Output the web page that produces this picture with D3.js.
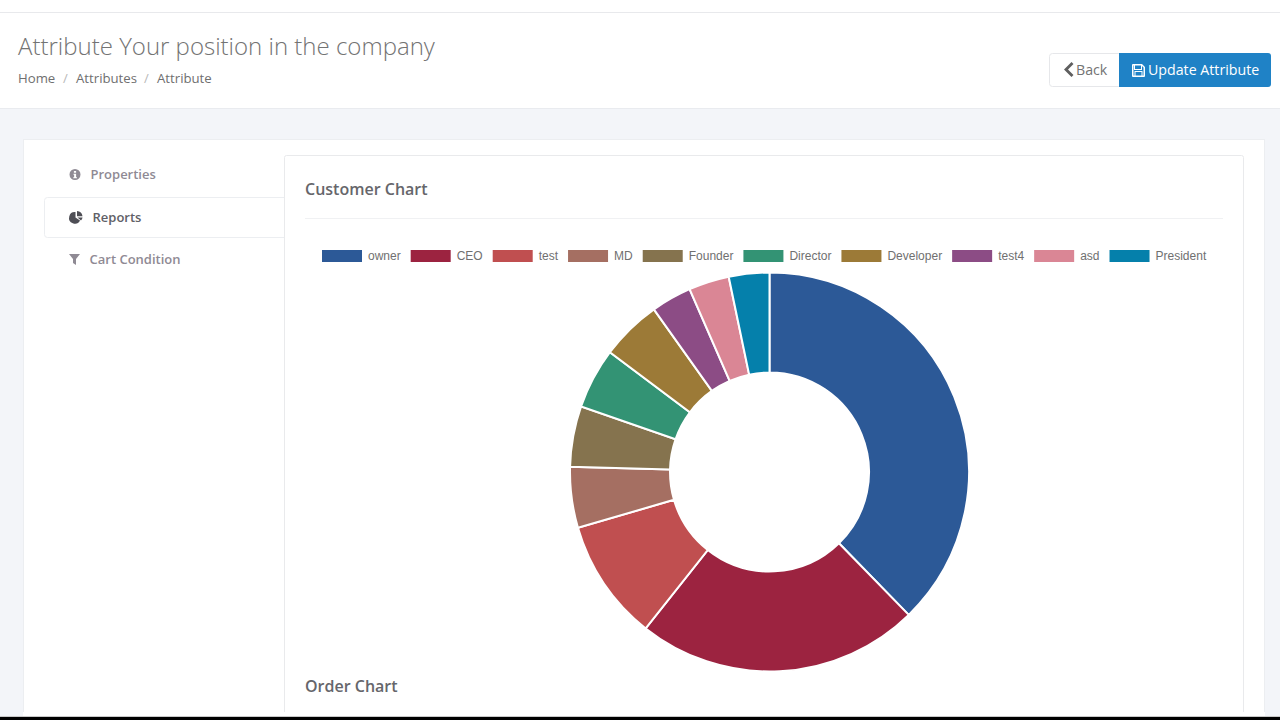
<!DOCTYPE html>
<html>
<head>
<meta charset="utf-8">
<title>Attribute</title>
<script src="https://cdnjs.cloudflare.com/ajax/libs/d3/7.8.5/d3.min.js"></script>
<style>
html,body{margin:0;padding:0;background:#fff;overflow:hidden;}
svg{display:block;}
text{font-family:"Open Sans",sans-serif;}
</style>
</head>
<body>
<div id="page"></div>
<script>
// chart data
const categories=["owner","CEO","test","MD","Founder","Director","Developer","test4","asd","President"];
const customerCounts=[23,14,6,3,3,3,3,2,2,2];
const sliceColors=["#2c5997","#9c2340","#c04f50","#a56f62","#85734e","#339374","#9c7a37","#8c4c85","#da8695","#0580ab"];
const crumbs=["Home","Attributes","Attribute"];

const svg=d3.select("#page").append("svg")
    .attr("width",1280)
    .attr("height",720);

function box(x,y,w,h,fill,stroke,r){
    return svg.append("rect")
        .attr("x",x).attr("y",y)
        .attr("width",w).attr("height",h)
        .attr("rx",r||0)
        .attr("fill",fill)
        .attr("stroke",stroke||"none");
}
function label(x,y,txt,size,color,weight){
    return svg.append("text")
        .attr("x",x).attr("y",y)
        .attr("font-size",size)
        .attr("font-weight",weight||400)
        .attr("fill",color)
        .text(txt);
}
function icon(x,y,scale,d,fill){
    return svg.append("path")
        .attr("transform",`translate(${x},${y}) scale(${scale})`)
        .attr("d",d)
        .attr("fill",fill)
        .attr("fill-rule","evenodd");
}

// page background + header
box(0,0,1280,720,"#f3f5f9");
box(0,0,1280,108,"#ffffff");
box(0,12,1280,1,"#e8e9ec");
box(0,108,1280,1,"#e9ebef");

label(18,55,"Attribute Your position in the company",24,"#737373",300);

// breadcrumb
label(18,83,crumbs[0],13.2,"#6f6f6f");
label(63,83,"/",13,"#b8b8b8");
label(76,83,crumbs[1],13.2,"#6f6f6f");
label(144,83,"/",13,"#b8b8b8");
label(157,83,crumbs[2],13.2,"#6f6f6f");

// buttons
box(1049.5,53.5,72,33,"#ffffff","#e6e7ea",3);
label(1076,75,"Back",14.2,"#737373");
box(1119,53,152,34,"#1f82c6",null,3);
box(1119,53,6,34,"#1f82c6");
label(1148,75,"Update Attribute",14.2,"#ffffff");
icon(1064,62,1,"M7.5 0 L9.5 2 L4 7.5 L9.5 13 L7.5 15 L0 7.5 Z","#5f5f5f");
icon(1132,64,1,"M0 1 Q0 0 1 0 L10 0 L13 3 L13 12 Q13 13 12 13 L1 13 Q0 13 0 12 Z M3 1.5 L3 5 L9 5 L9 1.5 Z M1.5 1.5 L1.5 11.5 L2.5 11.5 L2.5 7 L10.5 7 L10.5 11.5 L11.5 11.5 L11.5 3.6 L10 2 L10 6 L2 6 L2 1.5 Z M3.5 8 L3.5 11.5 L9.5 11.5 L9.5 8 Z","#ffffff");

// outer card
box(23.5,139.5,1241,590,"#ffffff","#eceef1");

// selected tab
box(44.5,197.5,250,40,"#ffffff","#eceef1",3);

// inner card
box(284.5,155.5,959,570,"#ffffff","#e9eaec",2);
box(285,198,2,39,"#ffffff");

// tabs
icon(69.5,169,1.1,"M5 0 A5 5 0 1 0 5 10 A5 5 0 1 0 5 0 Z M4 1.8 L6 1.8 L6 3.5 L4 3.5 Z M3.6 4.4 L6 4.4 L6 7.5 L6.8 7.5 L6.8 8.4 L3.4 8.4 L3.4 7.5 L4.2 7.5 L4.2 5.3 L3.6 5.3 Z","#8f8a94");
label(90.5,179,"Properties",13,"#8f8a94",600);
icon(70,211,1,"M5.5 1 L5.5 6.5 L10 9.5 A5.8 5.8 0 1 1 5.5 1 Z M7 0 A6 6 0 0 1 12.5 5.2 L7 5.2 Z M7.5 6.6 L12.6 6.6 A6 6 0 0 1 11 9.5 Z","#4e4e55");
label(92.5,222,"Reports",13,"#606066",600);
icon(69,254,1,"M0 0 L11 0 L7 5 L7 11 L4 9 L4 5 Z","#8f8a94");
label(89.5,264,"Cart Condition",13,"#8f8a94",600);

// card titles
label(305,195,"Customer Chart",16,"#66666b",600);
box(305,218,918,1,"#f0f1f3");
label(305,692,"Order Chart",16,"#66666b",600);

// legend, laid out from measured text widths
const legend=svg.append("g").attr("class","legend");
let legendX=322;
categories.forEach((c,i)=>{
    legend.append("rect")
        .attr("x",legendX).attr("y",250)
        .attr("width",40).attr("height",12)
        .attr("fill",sliceColors[i]);
    const t=legend.append("text")
        .attr("x",legendX+46).attr("y",260)
        .attr("font-size",12)
        .attr("fill","#707070")
        .style("font-family","'Liberation Sans',Arial,sans-serif")
        .text(c);
    legendX+=46+t.node().getComputedTextLength()+10;
});

// doughnut
const outerR=199.5;
const innerR=99.5;
const pie=d3.pie().sort(null);
const arc=d3.arc().innerRadius(innerR).outerRadius(outerR);

svg.append("g")
    .attr("transform","translate(769.5,472)")
    .selectAll("path")
    .data(pie(customerCounts))
    .enter()
    .append("path")
    .attr("d",arc)
    .attr("fill",(d,i)=>sliceColors[i])
    .attr("stroke","#ffffff")
    .attr("stroke-width",2);

// clipped bottom of the screenshot
box(0,712,1280,4,"#ffffff");
box(0,712,23,4,"#f3f5f9");
box(1265,712,15,4,"#f3f5f9");
box(0,716,1280,1,"#c9c9c9");
box(0,717,1280,3,"#000000");
</script>
</body>
</html>
